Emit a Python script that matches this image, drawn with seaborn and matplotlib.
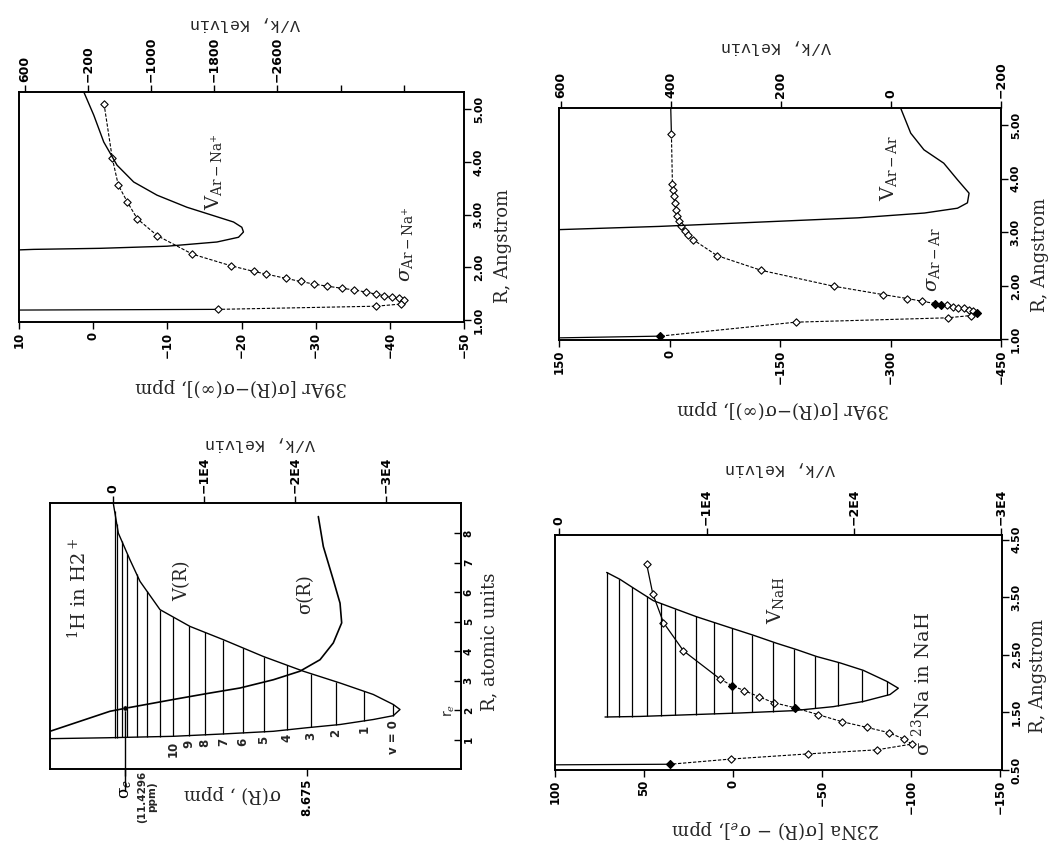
import numpy as np
import matplotlib
matplotlib.use("Agg")
import matplotlib.pyplot as plt
import seaborn as sns

# ======================= DATA =======================
# --- Panel A : 39Ar shielding in Ar-Na+ ---
arna_sigma_R = [5.11, 4.07, 3.56, 3.24, 2.92, 2.60, 2.25, 2.03, 1.92, 1.87, 1.79, 1.73, 1.68,
                1.64, 1.60, 1.57, 1.53, 1.49, 1.46, 1.43, 1.41, 1.38, 1.30, 1.26, 1.20]
arna_sigma = [-1.46, -2.58, -3.39, -4.61, -5.95, -8.65, -13.37, -18.54, -21.68, -23.35, -25.95,
              -27.97, -29.77, -31.57, -33.59, -35.16, -36.74, -38.09, -39.21, -40.33, -41.23,
              -41.90, -41.45, -38.09, -16.83]
arna_tail_R = [1.20, 1.185]
arna_tail_sigma = [-16.83, 14.0]
arna_V_R = [5.33, 4.89, 4.38, 3.94, 3.62, 3.37, 3.14, 2.98, 2.86, 2.76, 2.67, 2.57, 2.48, 2.40,
            2.36, 2.34, 2.33, 2.31]
arna_V = [-150, -276, -402, -570, -781, -1076, -1455, -1792, -2044, -2149, -2170, -2107, -1834,
          -1202, -360, 482, 672, 1500]

# --- Panel B : 39Ar shielding in Ar-Ar ---
arar_sigma_R = [4.83, 3.907, 3.795, 3.671, 3.547, 3.422, 3.311, 3.205, 3.112, 3.031, 2.957, 2.863,
                2.565, 2.292, 1.994, 1.839, 1.764, 1.714, 1.671, 1.652, 1.634, 1.615, 1.596, 1.578,
                1.559, 1.534, 1.497, 1.447, 1.404, 1.323, 1.062]
arar_sigma = [-2.6, -3.96, -4.87, -5.77, -7.13, -8.49, -10.76, -13.02, -16.19, -20.72, -25.25,
              -32.04, -64.6, -124.0, -222.7, -289.2, -322.8, -342.7, -360.3, -368.5, -376.2,
              -384.3, -392.0, -399.3, -406.1, -412.4, -417.0, -409.2, -377.5, -171.5, 13.2]
arar_filled_R = [1.671, 1.652, 1.497, 1.062]
arar_filled_sigma = [-360.3, -368.5, -417.0, 13.2]
arar_head_R = [5.32, 4.83]
arar_head_sigma = [-1.7, -2.6]
arar_tail_R = [1.062, 1.03]
arar_tail_sigma = [13.2, 150.0]
arar_V_R = [5.31, 4.85, 4.54, 4.29, 3.98, 3.73, 3.55, 3.45, 3.36, 3.27, 3.19, 3.11, 3.05, 3.00]
arar_V = [-18, -36, -60, -96, -121, -142, -139, -121, -61, 60, 240, 421, 603, 800]

# --- Panel C : 1H in H2+ ---
h2_sigma_R = [1.28, 1.96, 2.07, 2.36, 2.56, 2.75, 3.03, 3.32, 3.71, 4.28, 4.96, 5.63, 6.42,
              7.55, 8.57]
h2_sigma = [12.567, 11.657, 11.404, 10.697, 10.191, 9.686, 9.181, 8.777, 8.473, 8.272, 8.145,
            8.170, 8.272, 8.423, 8.499]
h2_V_outer_R = [9.02, 8.01, 7.10, 6.37, 5.41, 4.84, 4.39, 3.82, 3.32, 2.92, 2.53, 2.19, 2.02]
h2_V_outer = [0, -549, -1835, -2934, -5132, -8429, -12088, -16484, -20879, -24912, -28571,
              -30769, -31505]
h2_V_inner_R = [1.81, 1.68, 1.51, 1.40, 1.28, 1.19, 1.11, 1.06, 1.03]
h2_V_inner = [-30769, -28571, -24912, -21252, -17582, -12088, -6593, 725, 6960]
h2_levels = [-30769, -27549, -24473, -21692, -19121, -16560, -14220, -12088, -10077, -8319,
             -6593, -5132, -3670, -2571, -1538, -923, -374, -150]
h2_level_labels = ["v = 0", "1", "2", "3", "4", "5", "6", "7", "8", "9", "10"]
sigma_e = 11.4296
r_e = 2.0

# --- Panel D : 23Na in NaH ---
nah_sigma_R = [4.07, 3.56, 3.06, 2.57, 2.08, 1.96, 1.88, 1.77, 1.67, 1.58, 1.46, 1.34, 1.24,
               1.15, 1.04, 0.95, 0.85, 0.78, 0.69, 0.60]
nah_sigma = [48.5, 45.1, 39.1, 27.9, 7.3, 0.4, -6.2, -14.6, -22.7, -34.8, -47.9, -61.0, -75.1,
             -87.3, -95.7, -100.4, -80.7, -42.3, 1.3, 35.4]
nah_solid_n = 5
nah_filled_R = [1.96, 1.58, 0.60]
nah_filled_sigma = [0.4, -34.8, 35.4]
nah_tail_R = [0.60, 0.59]
nah_tail_sigma = [35.4, 100.0]
nah_V_outer_R = [3.93, 3.81, 3.66, 3.44, 3.31, 3.16, 2.99, 2.84, 2.70, 2.59, 2.47, 2.36, 2.23,
                 2.04, 1.92]
nah_V_outer = [-3213, -4118, -5023, -6380, -7738, -9321, -11357, -13167, -14751, -16109,
               -17466, -19050, -20633, -22217, -23009]
nah_V_inner_R = [1.81, 1.69, 1.60, 1.53, 1.49, 1.46, 1.43, 1.42]
nah_V_inner = [-22443, -20633, -18597, -15882, -12262, -8869, -5475, -3100]
nah_levels = [-22217, -20543, -18891, -17376, -15928, -14480, -13100, -11719, -10475, -9253,
              -7851, -6878, -5928, -4910, -4072, -3213]

# tick values / labels
A_sig_ticks = [10, 0, -10, -20, -30, -40, -50]
A_V_ticks = [600, -200, -1000, -1800, -2600, -3400, -4200]
A_V_labels = ["600", "\u2212200", "\u22121000", "\u22121800", "\u22122600", "", ""]
A_R_ticks = [1, 2, 3, 4, 5]
B_sig_ticks = [150, 0, -150, -300, -450]
B_V_ticks = [600, 400, 200, 0, -200]
B_R_ticks = [1, 2, 3, 4, 5]
C_sig_ticks = [sigma_e, 8.675]
C_sig_labels = ["\u03c3$_e$", "8.675"]
C_V_ticks = [0, -10000, -20000, -30000]
C_V_labels = ["0", "\u22121E4", "\u22122E4", "\u22123E4"]
C_R_ticks = [1, 2, 3, 4, 5, 6, 7, 8]
D_sig_ticks = [100, 50, 0, -50, -100, -150]
D_V_ticks = [0, -10000, -20000, -30000]
D_V_labels = ["0", "\u22121E4", "\u22122E4", "\u22123E4"]
D_R_ticks = [0.5, 1.5, 2.5, 3.5, 4.5]

# ======================= FIGURE =======================
sns.set_theme(style="white")
plt.rcParams["font.family"] = ["DejaVu Sans"]
plt.rcParams["mathtext.fontset"] = "dejavuserif"
plt.rcParams["axes.edgecolor"] = "black"
plt.rcParams["axes.linewidth"] = 1.2

W, H = 1052, 842
fig = plt.figure(figsize=(W / 100, H / 100), dpi=100)
fig.patch.set_facecolor("white")


def rect(l, t, r, b):
    return [l / W, (H - b) / H, (r - l) / W, (b - t) / H]


def fmt_num(v, nd=0):
    s = f"{v:.{nd}f}"
    return s.replace("-", "\u2212")


TICK = dict(family="DejaVu Sans", weight="bold")
SERIF = "DejaVu Serif"


def make_panel(box, sig_lim, R_lim, V_lim, sig_ticks, sig_labels, R_ticks, R_labels,
               V_ticks, V_labels, sig_label, R_label, coords):
    ax = fig.add_axes(rect(*box))
    ax.set_facecolor("none")
    ax.set_xlim(sig_lim)
    ax.set_ylim(R_lim)
    axV = ax.twiny()
    axV.set_xlim(V_lim)
    ax.set_xticks(sig_ticks, sig_labels, rotation=90, fontsize=8.5, **TICK)
    ax.yaxis.tick_right()
    ax.set_yticks(R_ticks, R_labels, rotation=90, va="center", fontsize=8, **TICK)
    axV.set_xticks(V_ticks, V_labels, rotation=90, fontsize=9, **TICK)
    ax.grid(False)
    axV.grid(False)
    for a in (ax, axV):
        a.tick_params(direction="out", length=5, width=1, pad=2, colors="black")
        for s in a.spines.values():
            s.set_linewidth(1.2)
            s.set_color("black")
    (bx, by), (tx, ty), (rx, ry) = coords
    ax.set_xlabel(sig_label, rotation=180, fontsize=13, family=SERIF)
    ax.xaxis.set_label_coords(bx, by)
    ax.xaxis.label.set_va("center")
    axV.set_xlabel("V/k, Kelvin", rotation=180, fontsize=12, family="Liberation Mono")
    axV.xaxis.set_label_coords(tx, ty)
    axV.xaxis.label.set_va("center")
    ax.yaxis.set_label_position("right")
    ax.set_ylabel(R_label, rotation=90, fontsize=13, family=SERIF)
    ax.yaxis.set_label_coords(rx, ry)
    ax.yaxis.label.set_va("center")
    ax.yaxis.label.set_ha("center")
    return ax, axV


def sigma_curve(ax, sig, R, filled_sig=None, filled_R=None, extra=(), solid_n=0):
    if solid_n:
        sns.lineplot(x=sig[:solid_n], y=R[:solid_n], sort=False, estimator=None,
                     color="black", lw=0.9, ax=ax)
        sns.lineplot(x=sig[solid_n - 1:], y=R[solid_n - 1:], sort=False, estimator=None,
                     color="black", lw=0.8, linestyle=(0, (3, 1.5)), ax=ax)
    else:
        sns.lineplot(x=sig, y=R, sort=False, estimator=None, color="black", lw=0.8,
                     linestyle=(0, (3, 1.5)), ax=ax)
    for es, er in extra:
        sns.lineplot(x=es, y=er, sort=False, estimator=None, color="black", lw=0.9, ax=ax)
    sns.scatterplot(x=sig, y=R, marker="D", s=14, color="white", edgecolor="black",
                    linewidth=0.8, ax=ax, zorder=5)
    if filled_sig is not None:
        sns.scatterplot(x=filled_sig, y=filled_R, marker="D", s=16, color="black",
                        edgecolor="black", linewidth=0.8, ax=ax, zorder=6)


# ---------------- Panel A ----------------
axA, axAV = make_panel(
    (19, 92, 464, 322), (10, -50), (0.96, 5.33), (670, -4960),
    A_sig_ticks, [fmt_num(v) for v in A_sig_ticks],
    A_R_ticks, [f"{v:.2f}" for v in A_R_ticks],
    A_V_ticks, A_V_labels,
    "39Ar [\u03c3(R)\u2212\u03c3(\u221e)], ppm", "R, Angstrom",
    ((0.50, -0.283), (0.508, 1.296), (1.088, 0.33)))
sns.lineplot(x=arna_V, y=arna_V_R, sort=False, estimator=None, color="black", lw=1.0, ax=axAV)
sigma_curve(axA, arna_sigma, arna_sigma_R, extra=[(arna_tail_sigma, arna_tail_R)])
axAV.text(-1792, 3.81, r"V$_{\mathrm{Ar-Na}^{+}}$", rotation=90, ha="center", va="center",
          fontsize=14, family=SERIF)
axA.text(-42.1, 2.44, r"$\sigma_{\mathrm{Ar-Na}^{+}}$", rotation=90, ha="center", va="center",
         fontsize=14)

# ---------------- Panel B ----------------
axB, axBV = make_panel(
    (559, 108, 1001, 340), (150, -450), (0.99, 5.32), (603, -197),
    B_sig_ticks, [fmt_num(v) for v in B_sig_ticks],
    B_R_ticks, [f"{v:.2f}" for v in B_R_ticks],
    B_V_ticks, [fmt_num(v) for v in B_V_ticks],
    "39Ar [\u03c3(R)\u2212\u03c3(\u221e)], ppm", "R, Angstrom",
    ((0.507, -0.30), (0.49, 1.263), (1.088, 0.366)))
sns.lineplot(x=arar_V, y=arar_V_R, sort=False, estimator=None, color="black", lw=1.0, ax=axBV)
sigma_curve(axB, arar_sigma, arar_sigma_R, arar_filled_sigma, arar_filled_R,
            extra=[(arar_head_sigma, arar_head_R), (arar_tail_sigma, arar_tail_R)])
axBV.text(4, 4.20, r"V$_{\mathrm{Ar-Ar}}$", rotation=90, ha="center", va="center",
          fontsize=14, family=SERIF)
axB.text(-357, 2.49, r"$\sigma_{\mathrm{Ar-Ar}}$", rotation=90, ha="center", va="center",
         fontsize=14)

# ---------------- Panel C ----------------
axC, axCV = make_panel(
    (50, 503, 461, 769), (12.567, 6.336), (0.0, 9.03), (6956, -38209),
    C_sig_ticks, C_sig_labels,
    C_R_ticks, [str(v) for v in C_R_ticks],
    C_V_ticks, C_V_labels,
    "\u03c3(R) , ppm", "R, atomic units",
    ((0.445, -0.094), (0.511, 1.222), (1.07, 0.477)))
axC.tick_params(axis="y", direction="in", length=5, labelsize=7.5)
lab0 = axC.get_xticklabels()[0]
lab0.set_fontsize(12)
lab0.set_family(SERIF)
lab0.set_weight("normal")
h2_V_all = h2_V_outer + h2_V_inner
h2_V_all_R = h2_V_outer_R + h2_V_inner_R
sns.lineplot(x=h2_V_all, y=h2_V_all_R, sort=False, estimator=None, color="black", lw=1.0,
             ax=axCV)
sns.lineplot(x=h2_sigma, y=h2_sigma_R, sort=False, estimator=None, color="black", lw=1.2,
             ax=axC)
inner_V = np.array([h2_V_outer[-1]] + h2_V_inner)
inner_R = np.array([h2_V_outer_R[-1]] + h2_V_inner_R)
outer_V = np.array(h2_V_outer[::-1])
outer_R = np.array(h2_V_outer_R[::-1])
lv = np.array(h2_levels)
R_in = np.interp(lv, inner_V, inner_R)
R_out = np.interp(lv, outer_V, outer_R)
axCV.vlines(lv, R_in, R_out, color="black", lw=0.9)
for E, r_in, txt in zip(h2_levels, R_in, h2_level_labels):
    axCV.text(E, r_in - 0.15, txt, rotation=90, ha="center", va="top", fontsize=8.5,
              weight="bold")
# sigma_e marker line
mono = 6
R_cross = np.interp(sigma_e, h2_sigma[:mono][::-1], h2_sigma_R[:mono][::-1])
axC.plot([sigma_e, sigma_e], [R_cross, -0.75], color="black", lw=1.0, clip_on=False)
sns.scatterplot(x=[sigma_e], y=[R_cross], s=14, color="black", ax=axC, zorder=6)
axC.text((147 - 50) / 411, (769 - 797) / 266, "(11.4296\nppm)", transform=axC.transAxes,
         rotation=90, ha="center", va="center", fontsize=7.5, weight="bold",
         linespacing=1.0)
axC.text(12.14, 6.15, r"$^1$H in H2$^+$", rotation=90, ha="center", va="center",
         fontsize=14, family=SERIF)
axCV.text(-7549, 6.39, "V(R)", rotation=90, ha="center", va="center", fontsize=13,
          family=SERIF)
axC.text(8.70, 5.95, "\u03c3(R)", rotation=90, ha="center", va="center", fontsize=13,
         family=SERIF)
axC.text(6.52, r_e, "r$_e$", rotation=90, ha="center", va="center", fontsize=10)

# ---------------- Panel D ----------------
axD, axDV = make_panel(
    (555, 535, 1002, 770), (100, -151), (0.5, 4.58), (294, -30045),
    D_sig_ticks, [fmt_num(v) for v in D_sig_ticks],
    D_R_ticks, [f"{v:.2f}" for v in D_R_ticks],
    D_V_ticks, D_V_labels,
    "23Na [\u03c3(R) \u2212 \u03c3$_e$], ppm", "R, Angstrom",
    ((0.494, -0.255), (0.503, 1.285), (1.08, 0.40)))
nah_V_all = nah_V_outer + nah_V_inner
nah_V_all_R = nah_V_outer_R + nah_V_inner_R
sns.lineplot(x=nah_V_all, y=nah_V_all_R, sort=False, estimator=None, color="black", lw=1.0,
             ax=axDV)
n_in_V = np.array([nah_V_outer[-1]] + nah_V_inner)
n_in_R = np.array([nah_V_outer_R[-1]] + nah_V_inner_R)
n_out_V = np.array(nah_V_outer[::-1])
n_out_R = np.array(nah_V_outer_R[::-1])
nl = np.array(nah_levels)
axDV.vlines(nl, np.interp(nl, n_in_V, n_in_R), np.interp(nl, n_out_V, n_out_R),
            color="black", lw=0.9)
sigma_curve(axD, nah_sigma, nah_sigma_R, nah_filled_sigma, nah_filled_R,
            extra=[(nah_tail_sigma, nah_tail_R)], solid_n=nah_solid_n)
axDV.text(-14638, 3.45, r"V$_{\mathrm{NaH}}$", rotation=90, ha="center", va="center",
          fontsize=14, family=SERIF)
axD.text(-106, 1.99, "\u03c3 $^{23}$Na in NaH", rotation=90, ha="center", va="center",
         fontsize=14, family=SERIF)

fig.savefig("out.png", dpi=100, facecolor="white")
